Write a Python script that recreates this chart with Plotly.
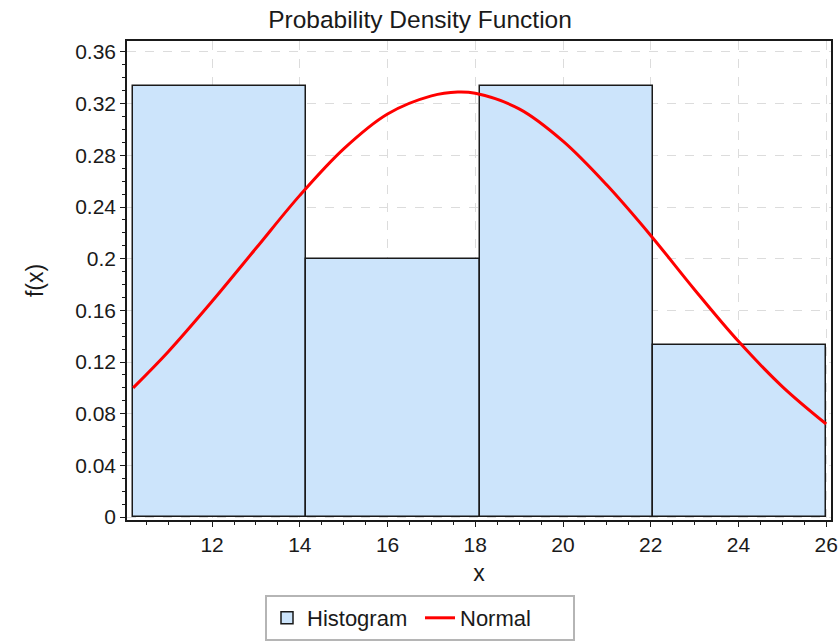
import plotly.graph_objects as go

# Histogram data (relative frequencies per bin)
bin_edges = [10.2, 14.15, 18.1, 22.05, 26.0]
bin_heights = [0.3333, 0.2, 0.3333, 0.1333]

# Fitted normal curve
curve_x = [10.2, 11, 12, 13, 14, 15, 16, 17, 17.6, 18, 19, 20, 21, 22, 23, 24, 25, 26]
curve_y = [0.100, 0.128, 0.167, 0.208, 0.249, 0.285, 0.312, 0.326, 0.329, 0.328,
           0.316, 0.291, 0.257, 0.218, 0.176, 0.136, 0.101, 0.072]

y_tick_vals = [0, 0.04, 0.08, 0.12, 0.16, 0.2, 0.24, 0.28, 0.32, 0.36]
y_tick_text = ["0", "0.04", "0.08", "0.12", "0.16", "0.2", "0.24", "0.28", "0.32", "0.36"]
x_tick_vals = [12, 14, 16, 18, 20, 22, 24, 26]

centers = [(a + b) / 2 for a, b in zip(bin_edges[:-1], bin_edges[1:])]
widths = [b - a for a, b in zip(bin_edges[:-1], bin_edges[1:])]

FONT = "Liberation Sans, Arial, sans-serif"
INK = "#1a1a1a"

fig = go.Figure()
fig.add_trace(go.Bar(
    x=centers, y=bin_heights, width=widths, name="Histogram",
    marker=dict(color="#cce4fb", line=dict(color=INK, width=1.5)),
    hoverinfo="skip",
))
fig.add_trace(go.Scatter(
    x=curve_x, y=curve_y, mode="lines", name="Normal", line_shape="spline",
    line=dict(color="#ff0000", width=3),
))

axis_common = dict(
    showline=True, linecolor=INK, linewidth=1.5, mirror=True,
    ticks="outside", ticklen=5, tickcolor=INK, tickwidth=1,
    showgrid=True, gridcolor="#dcdcdc", griddash="dash", gridwidth=1,
    zeroline=False, automargin=False,
    tickfont=dict(size=21, color=INK, family=FONT),
)

fig.update_layout(
    width=840, height=641,
    margin=dict(l=127, r=9, t=41, b=121),
    paper_bgcolor="white", plot_bgcolor="white",
    font=dict(family=FONT, color=INK, size=21),
    title=dict(text="Probability Density Function", x=0.5, xref="container",
               xanchor="center", y=0.969, yref="container", yanchor="middle",
               font=dict(size=24.5, family=FONT, color=INK)),
    bargap=0,
    showlegend=True,
    legend=dict(orientation="h", x=0.5, xref="container", xanchor="center",
                y=-0.017, yref="container", yanchor="bottom",
                bordercolor="#b5b5b5", borderwidth=2,
                font=dict(size=22, family=FONT, color=INK),
                itemwidth=30, entrywidth=108, tracegroupgap=0),
    xaxis=dict(range=[10.06, 26.11], tickvals=x_tick_vals,
               title=dict(text="x", font=dict(size=23), standoff=10),
               minor=dict(dtick=0.5, tick0=0, ticks="outside", ticklen=3,
                          tickcolor=INK, showgrid=False),
               **axis_common),
    yaxis=dict(range=[-0.0023, 0.3685], tickvals=y_tick_vals, ticktext=y_tick_text,
               title=dict(text="f(x)", font=dict(size=23), standoff=25),
               minor=dict(dtick=0.01, tick0=0, ticks="outside", ticklen=3,
                          tickcolor=INK, showgrid=False),
               **axis_common),
)

fig.write_html("out.html")
